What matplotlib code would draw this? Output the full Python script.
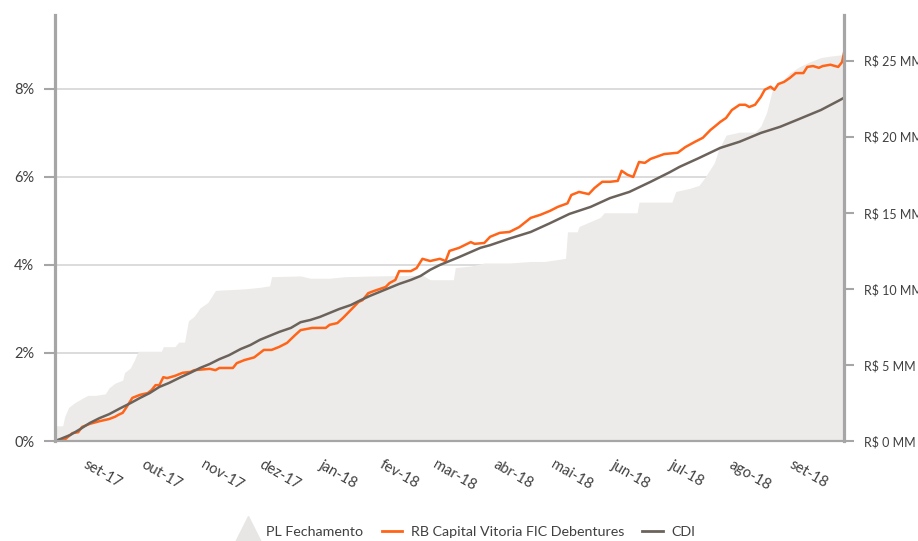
import matplotlib.pyplot as plt
from matplotlib.lines import Line2D
import pandas as pd

plt.rcParams['font.family'] = ['Lato', 'DejaVu Sans']

# days counted from 2017-08-15 (first day of the chart)
start = pd.Timestamp('2017-08-15')
last_day = 408

# PL Fechamento (R$ MM), right axis
pl_days = [0, 4, 5, 7, 10, 14, 17, 21, 26, 28, 31, 35, 36, 39, 41, 43, 55, 56, 62, 64,
           67, 69, 72, 75, 79, 83, 98, 106, 111, 112, 127, 132, 142, 150, 165, 190, 194,
           206, 207, 215, 222, 235, 246, 253, 264, 265, 270, 271, 282, 284, 301, 302, 319,
           321, 328, 333, 336, 341, 343, 347, 354, 362, 365, 368, 371, 375, 380, 385, 390,
           396, 401, 408]
pl_mm = [1.0, 1.0, 1.6, 2.2, 2.5, 2.8, 3.0, 3.0, 3.1, 3.5, 3.8, 4.0, 4.5, 4.8, 5.3, 5.9, 5.9,
         6.2, 6.2, 6.5, 6.5, 7.9, 8.2, 8.75, 9.1, 9.9, 10.0, 10.1, 10.2, 10.8, 10.85, 10.7,
         10.7, 10.8, 10.85, 10.9, 10.6, 10.6, 11.4, 11.5, 11.7, 11.7, 11.8, 11.8, 12.0, 13.75,
         13.75, 14.1, 14.7, 15.0, 15.0, 15.7, 15.7, 16.4, 16.6, 16.8, 17.3, 18.3, 19.1, 20.1,
         20.3, 20.3, 20.7, 21.6, 23.1, 23.5, 24.2, 24.6, 24.9, 25.2, 25.3, 25.4]

# RB Capital Vitoria FIC Debentures (%)
rb_days = [0, 2, 5, 9, 12, 14, 18, 23, 28, 31, 33, 35, 37, 40, 44, 48, 50, 52, 54, 56, 58,
           62, 66, 70, 72, 80, 83, 85, 92, 94, 98, 103, 108, 112, 116, 120, 124, 127, 133,
           140, 142, 146, 149, 153, 157, 159, 162, 165, 171, 173, 176, 178, 184, 187, 190,
           194, 199, 202, 204, 209, 215, 217, 222, 225, 230, 235, 240, 246, 251, 256, 260,
           265, 267, 271, 276, 279, 283, 287, 291, 293, 296, 299, 302, 305, 308, 315, 322,
           326, 331, 335, 339, 341, 344, 347, 350, 354, 357, 359, 362, 365, 367, 370, 372,
           374, 377, 380, 383, 387, 389, 392, 395, 397, 401, 405, 407, 408]
rb_pct = [0.0, 0.0, 0.03, 0.18, 0.2, 0.32, 0.39, 0.45, 0.5, 0.55, 0.6, 0.64, 0.77, 0.98,
          1.05, 1.09, 1.16, 1.27, 1.27, 1.45, 1.43, 1.48, 1.55, 1.57, 1.61, 1.64, 1.61, 1.66,
          1.66, 1.77, 1.84, 1.9, 2.07, 2.07, 2.14, 2.23, 2.4, 2.52, 2.57, 2.57, 2.64, 2.68,
          2.8, 2.98, 3.16, 3.2, 3.36, 3.41, 3.5, 3.59, 3.66, 3.86, 3.86, 3.93, 4.14, 4.09,
          4.14, 4.09, 4.32, 4.39, 4.52, 4.48, 4.5, 4.64, 4.73, 4.75, 4.86, 5.07, 5.14, 5.23,
          5.32, 5.4, 5.59, 5.66, 5.61, 5.75, 5.89, 5.89, 5.91, 6.14, 6.05, 6.0, 6.34, 6.32,
          6.41, 6.52, 6.55, 6.68, 6.8, 6.89, 7.07, 7.14, 7.25, 7.34, 7.52, 7.64, 7.64, 7.59,
          7.64, 7.82, 7.98, 8.05, 7.98, 8.11, 8.16, 8.25, 8.36, 8.36, 8.5, 8.52, 8.48, 8.52,
          8.55, 8.5, 8.61, 8.82]

# CDI (%)
cdi_days = [0, 3, 8, 13, 18, 23, 28, 34, 39, 44, 49, 54, 59, 65, 70, 75, 80, 85, 90, 96,
            101, 106, 111, 116, 122, 127, 132, 137, 142, 147, 153, 158, 163, 168, 173, 178,
            184, 189, 194, 199, 209, 220, 225, 235, 246, 256, 266, 277, 287, 297, 308, 313,
            318, 323, 333, 344, 354, 365, 375, 385, 396, 406, 408]
cdi_pct = [0.0, 0.05, 0.14, 0.27, 0.41, 0.52, 0.61, 0.75, 0.86, 0.98, 1.09, 1.23, 1.32,
           1.45, 1.55, 1.66, 1.75, 1.86, 1.95, 2.09, 2.18, 2.3, 2.39, 2.48, 2.57, 2.7, 2.75,
           2.82, 2.91, 3.0, 3.09, 3.2, 3.3, 3.39, 3.48, 3.57, 3.66, 3.75, 3.89, 4.0, 4.18,
           4.39, 4.45, 4.6, 4.75, 4.95, 5.16, 5.32, 5.52, 5.66, 5.89, 6.0, 6.11, 6.23, 6.43,
           6.66, 6.8, 7.0, 7.14, 7.32, 7.52, 7.75, 7.8]

month_labels = ['set-17', 'out-17', 'nov-17', 'dez-17', 'jan-18', 'fev-18', 'mar-18',
                'abr-18', 'mai-18', 'jun-18', 'jul-18', 'ago-18', 'set-18']
pct_ticks = [0, 2, 4, 6, 8]
pct_labels = ['0%', '2%', '4%', '6%', '8%']
mm_ticks = [0, 5, 10, 15, 20, 25]
mm_labels = ['R$ 0 MM', 'R$ 5 MM', 'R$ 10 MM', 'R$ 15 MM', 'R$ 20 MM', 'R$ 25 MM']

area_color = '#edebe9'
orange = '#ff6418'
cdi_color = '#6b635b'
spine_color = '#a6a6a6'
text_color = '#404040'

def to_dates(days):
    return start + pd.to_timedelta(days, unit='D')

fig = plt.figure(figsize=(9.18, 5.41), dpi=100)
ax = fig.add_axes([0.0599, 0.1848, 0.8595, 0.7875])

# grid + left labels
ax.set_ylim(0, 9.68)
ax.set_yticks(pct_ticks)
ax.set_yticklabels(pct_labels)
ax.yaxis.grid(True, color='#d9d9d9', lw=1.3)
ax.set_axisbelow(True)
for s in ax.spines.values():
    s.set_visible(False)
ax.tick_params(axis='y', left=True, right=False, length=8, width=1.5, color=spine_color,
               labelsize=10.5, labelcolor=text_color, pad=7)
ax.set_xlim(start, to_dates(last_day))
ax.set_xticks(pd.date_range('2017-09-01', '2018-09-01', freq='MS'))
ax.set_xticklabels(month_labels, rotation=-30, rotation_mode='anchor', ha='left', va='top')
ax.tick_params(axis='x', length=0, pad=12, labelsize=10.5, labelcolor=text_color)

# PL area on the right axis
axa = ax.twinx()
axa.fill_between(to_dates(pl_days), pl_mm, 0, color=area_color, linewidth=0)
axa.set_ylim(0, 28.0)
axa.set_yticks(mm_ticks)
axa.set_yticklabels(mm_labels)
for s in axa.spines.values():
    s.set_visible(False)
axa.tick_params(axis='y', right=True, left=False, length=7.5, width=1.5, color=spine_color,
                labelsize=9, labelcolor=text_color, pad=7)

# lines on top
axl = ax.twinx()
axl.set_ylim(0, 9.68)
axl.plot(to_dates(rb_days), rb_pct, color=orange, lw=1.8)
axl.plot(to_dates(cdi_days), cdi_pct, color=cdi_color, lw=1.8)
axl.tick_params(axis='y', left=False, right=False, labelleft=False, labelright=False)
axl.spines['top'].set_visible(False)
for side in ['left', 'right']:
    axl.spines[side].set_color(spine_color)
    axl.spines[side].set_linewidth(2.3)
axl.spines['bottom'].set_color(spine_color)
axl.spines['bottom'].set_linewidth(1.6)

handles = [Line2D([], [], marker='^', markersize=21, color='#e8e6e4', linestyle='None'),
           Line2D([], [], color=orange, lw=2),
           Line2D([], [], color=cdi_color, lw=2)]
labels = ['PL Fechamento', 'RB Capital Vitoria FIC Debentures', 'CDI']
fig.legend(handles, labels, loc='center', bbox_to_anchor=(0.508, 0.017), ncol=3,
           frameon=False, fontsize=10.3, labelcolor=text_color, handlelength=1.4,
           columnspacing=1.3, handletextpad=0.6)

fig.savefig('out.png', dpi=100)
